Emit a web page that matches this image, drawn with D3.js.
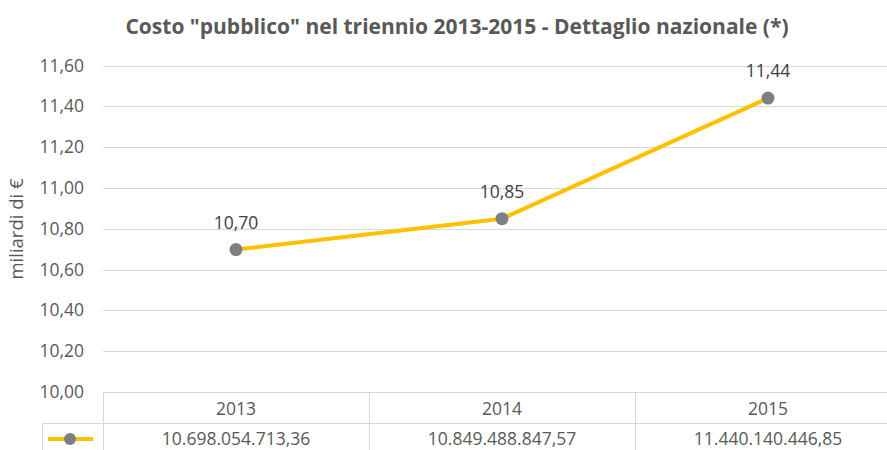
<!DOCTYPE html>
<html>
<head>
<meta charset="utf-8">
<script src="https://cdn.jsdelivr.net/npm/d3@7"></script>
<style>
  body { margin: 0; background: #fff; }
  text { font-family: "Open Sans", sans-serif; }
</style>
</head>
<body>
<script>
// data
const years = ["2013", "2014", "2015"];
const costs = [10.698054713, 10.849488848, 11.440140447];   // miliardi di €
const costLabels = ["10.698.054.713,36", "10.849.488.847,57", "11.440.140.446,85"];
const yTicks = [10.0, 10.2, 10.4, 10.6, 10.8, 11.0, 11.2, 11.4, 11.6];

const width = 887, height = 450;
const plotLeft = 103, plotRight = 901, plotTop = 65.5, plotBottom = 392;

const svg = d3.select("body").append("svg")
    .attr("width", width)
    .attr("height", height);

const x = d3.scaleBand().domain(years).range([plotLeft, plotRight]);
const y = d3.scaleLinear().domain([10, 11.6]).range([plotBottom, plotTop]);

const fmt = v => d3.format(".2f")(v).replace(".", ",");

// title
svg.append("text")
    .attr("x", 457).attr("y", 34)
    .attr("text-anchor", "middle")
    .attr("font-size", 21).attr("font-weight", "bold")
    .attr("fill", "#595959")
    .text('Costo "pubblico" nel triennio 2013-2015 - Dettaglio nazionale (*)');

// gridlines
svg.append("g")
  .selectAll("line")
  .data(yTicks.slice(1))
  .join("line")
    .attr("x1", plotLeft).attr("x2", width)
    .attr("y1", d => Math.round(y(d)) + 0.5).attr("y2", d => Math.round(y(d)) + 0.5)
    .attr("stroke", "#d9d9d9");

// y tick labels
svg.append("g")
  .selectAll("text")
  .data(yTicks)
  .join("text")
    .attr("x", 84).attr("y", d => y(d) + 6)
    .attr("text-anchor", "end")
    .attr("font-size", 17.5)
    .attr("fill", "#595959")
    .text(fmt);

// axis title
svg.append("text")
    .attr("transform", "translate(23,229) rotate(-90)")
    .attr("text-anchor", "middle")
    .attr("font-size", 18.5)
    .attr("fill", "#595959")
    .text("miliardi di €");

// data table
const table = svg.append("g").attr("stroke", "#d9d9d9").attr("fill", "none");
table.append("line").attr("x1", plotLeft).attr("x2", width).attr("y1", 392.5).attr("y2", 392.5);
table.append("line").attr("x1", 42).attr("x2", width).attr("y1", 423.5).attr("y2", 423.5);
table.append("line").attr("x1", 42.5).attr("x2", 42.5).attr("y1", 423).attr("y2", height);
table.selectAll(".sep")
  .data(years)
  .join("line")
    .attr("x1", d => Math.round(x(d)) + 0.5).attr("x2", d => Math.round(x(d)) + 0.5)
    .attr("y1", 392).attr("y2", height);

svg.append("g")
  .selectAll("text")
  .data(years)
  .join("text")
    .attr("x", d => x(d) + x.bandwidth() / 2).attr("y", 415)
    .attr("text-anchor", "middle")
    .attr("font-size", 17.5)
    .attr("fill", "#595959")
    .text(d => d);

svg.append("g")
  .selectAll("text")
  .data(costLabels)
  .join("text")
    .attr("x", (d, i) => x(years[i]) + x.bandwidth() / 2).attr("y", 445)
    .attr("text-anchor", "middle")
    .attr("font-size", 17.5)
    .attr("fill", "#595959")
    .text(d => d);

// legend key in table
svg.append("line")
    .attr("x1", 48).attr("x2", 93).attr("y1", 439).attr("y2", 439)
    .attr("stroke", "#ffc000").attr("stroke-width", 4);
svg.append("circle")
    .attr("cx", 70).attr("cy", 439).attr("r", 6)
    .attr("fill", "#7f7f7f");

// line + markers
const cx = d => x(d) + x.bandwidth() / 2;
const line = d3.line()
    .x((d, i) => cx(years[i]))
    .y(d => y(d));

svg.append("path")
    .datum(costs)
    .attr("d", line)
    .attr("fill", "none")
    .attr("stroke", "#ffc000")
    .attr("stroke-width", 4)
    .attr("stroke-linejoin", "round");

svg.append("g")
  .selectAll("circle")
  .data(costs)
  .join("circle")
    .attr("cx", (d, i) => cx(years[i]))
    .attr("cy", d => y(d))
    .attr("r", 6.5)
    .attr("fill", "#7f7f7f");

// data labels
svg.append("g")
  .selectAll("text")
  .data(costs)
  .join("text")
    .attr("x", (d, i) => cx(years[i]))
    .attr("y", d => y(d) - 21)
    .attr("text-anchor", "middle")
    .attr("font-size", 17.5)
    .attr("fill", "#404040")
    .text(fmt);
</script>
</body>
</html>
